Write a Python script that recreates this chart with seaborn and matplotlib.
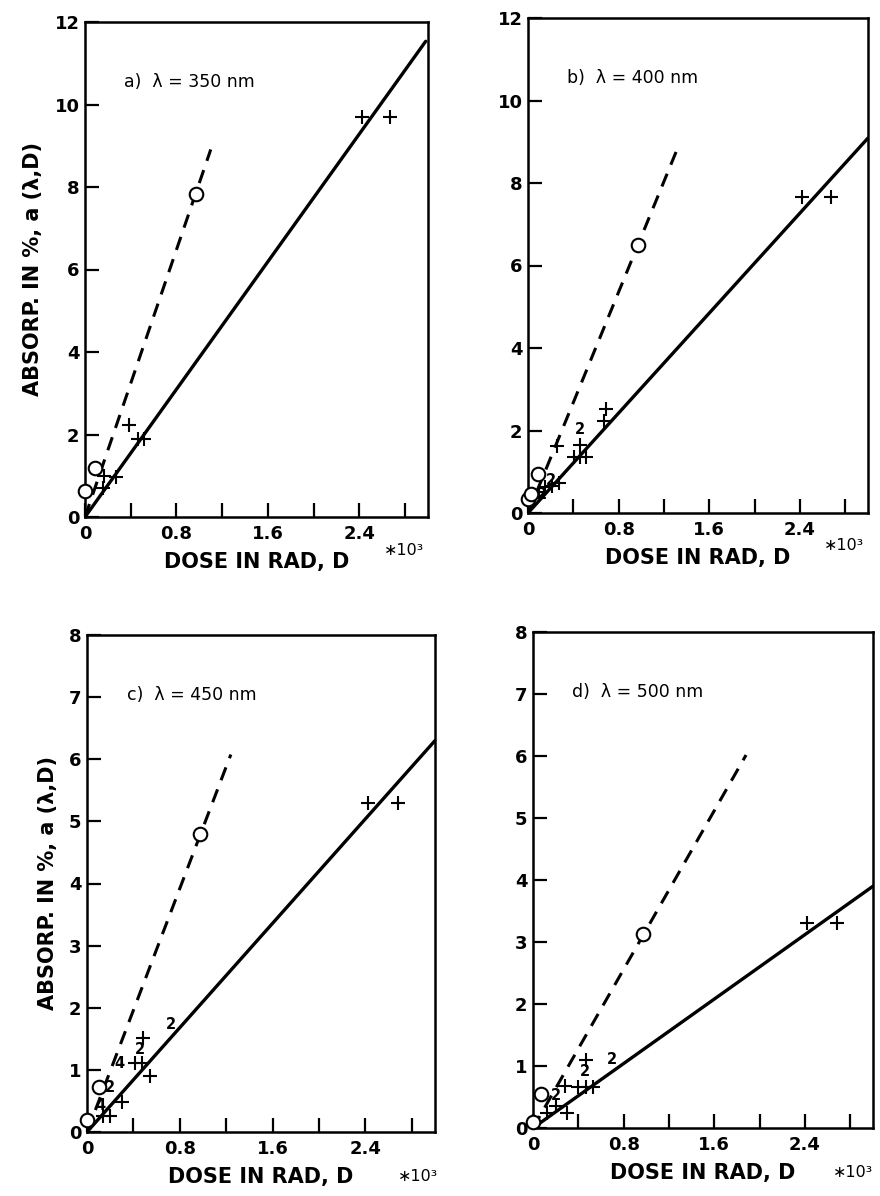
import matplotlib
matplotlib.use("Agg")
import matplotlib.pyplot as plt
import seaborn as sns
import numpy as np
from matplotlib.ticker import MultipleLocator, FixedLocator

# ---- data (dose in 10^3 rad, absorption in %) ----
panels = ["a", "b", "c", "d"]
wavelengths = [350, 400, 450, 500]

# open circles (dashed-line series)
circ_x = {
    "a": [0.0, 0.087, 0.97],
    "b": [0.0, 0.03, 0.086, 0.97],
    "c": [0.0, 0.10, 0.97],
    "d": [0.0, 0.07, 0.97],
}
circ_y = {
    "a": [0.62, 1.19, 7.83],
    "b": [0.33, 0.45, 0.95, 6.5],
    "c": [0.20, 0.72, 4.8],
    "d": [0.10, 0.55, 3.13],
}

# crosses (solid-line series)
plus_x = {
    "a": [0.16, 0.165, 0.275, 0.385, 0.46, 0.52, 2.42, 2.67],
    "b": [0.05, 0.10, 0.15, 0.21, 0.27, 0.26, 0.41, 0.46, 0.51, 0.46, 0.67, 0.69, 2.42, 2.67],
    "c": [0.14, 0.20, 0.30, 0.41, 0.47, 0.48, 0.54, 2.42, 2.68],
    "d": [0.12, 0.20, 0.30, 0.28, 0.40, 0.47, 0.53, 0.47, 2.42, 2.68],
}
plus_y = {
    "a": [0.71, 1.0, 0.96, 2.22, 1.89, 1.89, 9.7, 9.7],
    "b": [0.40, 0.50, 0.62, 0.65, 0.72, 1.63, 1.35, 1.35, 1.35, 1.65, 2.24, 2.51, 7.65, 7.65],
    "c": [0.25, 0.25, 0.48, 1.11, 1.11, 1.52, 0.90, 5.3, 5.3],
    "d": [0.25, 0.35, 0.25, 0.67, 0.66, 0.66, 0.66, 1.10, 3.3, 3.3],
}

# multiplicity labels next to points
count_x = {
    "a": [],
    "b": [0.46, 0.20, 0.12],
    "c": [0.46, 0.72, 0.20, 0.28, 0.12],
    "d": [0.46, 0.70, 0.20],
}
count_y = {
    "a": [],
    "b": [2.02, 0.78, 0.45],
    "c": [1.32, 1.73, 0.72, 1.11, 0.42],
    "d": [0.91, 1.10, 0.53],
}
count_text = {
    "a": [],
    "b": ["2", "2", "2"],
    "c": ["2", "2", "2", "4", "4"],
    "d": ["2", "2", "2"],
}

# fitted lines through the origin: slope and x extent
solid_slope = [3.87, 3.03, 2.10, 1.30]
solid_end = [2.98, 3.0, 3.0, 3.0]
dashed_slope = [8.1, 6.7, 4.9, 3.2]
dashed_end = [1.10, 1.33, 1.24, 1.88]

y_max = [12, 12, 8, 8]
y_step = [2, 2, 1, 1]
x_max = 3.0
x_tick_labels = ["0", "0.8", "1.6", "2.4"]
x_tick_values = [0.0, 0.8, 1.6, 2.4]

# ---- figure ----
sns.set_style("ticks", {"text.color": "black", "axes.labelcolor": "black",
                        "xtick.color": "black", "ytick.color": "black"})
plt.rcParams["font.family"] = ["DejaVu Sans"]

W, H = 880, 1196
fig = plt.figure(figsize=(W / 100, H / 100), dpi=100)

boxes = [
    (85, 428, 22, 517),
    (528, 868, 18, 513),
    (87, 435, 635, 1132),
    (533, 873, 632, 1128),
]
exp_pos = [(0.93, -0.068), (0.93, -0.066), (0.95, -0.09), (0.94, -0.09)]

for i, p in enumerate(panels):
    l, r, t, b = boxes[i]
    ax = fig.add_axes([l / W, 1 - b / H, (r - l) / W, (b - t) / H])

    xs = np.array([0.0, solid_end[i]])
    sns.lineplot(x=xs, y=solid_slope[i] * xs, ax=ax, color="black",
                 linewidth=2.4, estimator=None, sort=False)
    xd = np.array([0.0, dashed_end[i]])
    sns.lineplot(x=xd, y=dashed_slope[i] * xd, ax=ax, color="black",
                 linewidth=2.2, estimator=None, sort=False,
                 dashes=False, linestyle=(0, (4.5, 3.2)))

    ax.scatter(plus_x[p], plus_y[p], marker="+", s=100, color="black",
               linewidths=1.5, zorder=4, clip_on=False)
    ax.scatter(circ_x[p], circ_y[p], marker="o", s=95, facecolors="white",
               edgecolors="black", linewidths=1.5, zorder=5, clip_on=False)

    for tx, ty, s in zip(count_x[p], count_y[p], count_text[p]):
        ax.text(tx, ty, s, fontsize=10.5, fontweight="bold", ha="center",
                va="center", zorder=6)

    ax.set_xlim(0, x_max)
    ax.set_ylim(0, y_max[i])
    ax.xaxis.set_major_locator(FixedLocator(x_tick_values))
    ax.set_xticklabels(x_tick_labels)
    ax.xaxis.set_minor_locator(MultipleLocator(0.4))
    ax.yaxis.set_major_locator(MultipleLocator(y_step[i]))
    ax.yaxis.set_major_formatter(plt.FuncFormatter(lambda v, pos: f"{v:g}"))

    ax.tick_params(axis="both", which="both", direction="in", length=10,
                   width=1.6, top=False, right=False, labelsize=13, pad=6)
    ax.tick_params(axis="y", which="major", pad=4)
    for lab in ax.get_xticklabels() + ax.get_yticklabels():
        lab.set_fontweight("bold")
    for sp in ax.spines.values():
        sp.set_linewidth(1.8)
        sp.set_color("black")

    ax.text(0.114, 0.879, f"{p})  λ = {wavelengths[i]} nm",
            transform=ax.transAxes, fontsize=12.5, ha="left", va="center")

    ax.set_xlabel("DOSE IN RAD, D", fontsize=15, fontweight="bold", labelpad=6)
    if i % 2 == 0:
        ax.set_ylabel("ABSORP. IN %, a (λ,D)", fontsize=15, fontweight="bold",
                      labelpad=8)
    else:
        ax.set_ylabel("")
    ex, ey = exp_pos[i]
    ax.text(ex, ey, "∗10³", transform=ax.transAxes, fontsize=11.5,
            ha="center", va="center")

fig.savefig("out.png", dpi=100, facecolor="white")
